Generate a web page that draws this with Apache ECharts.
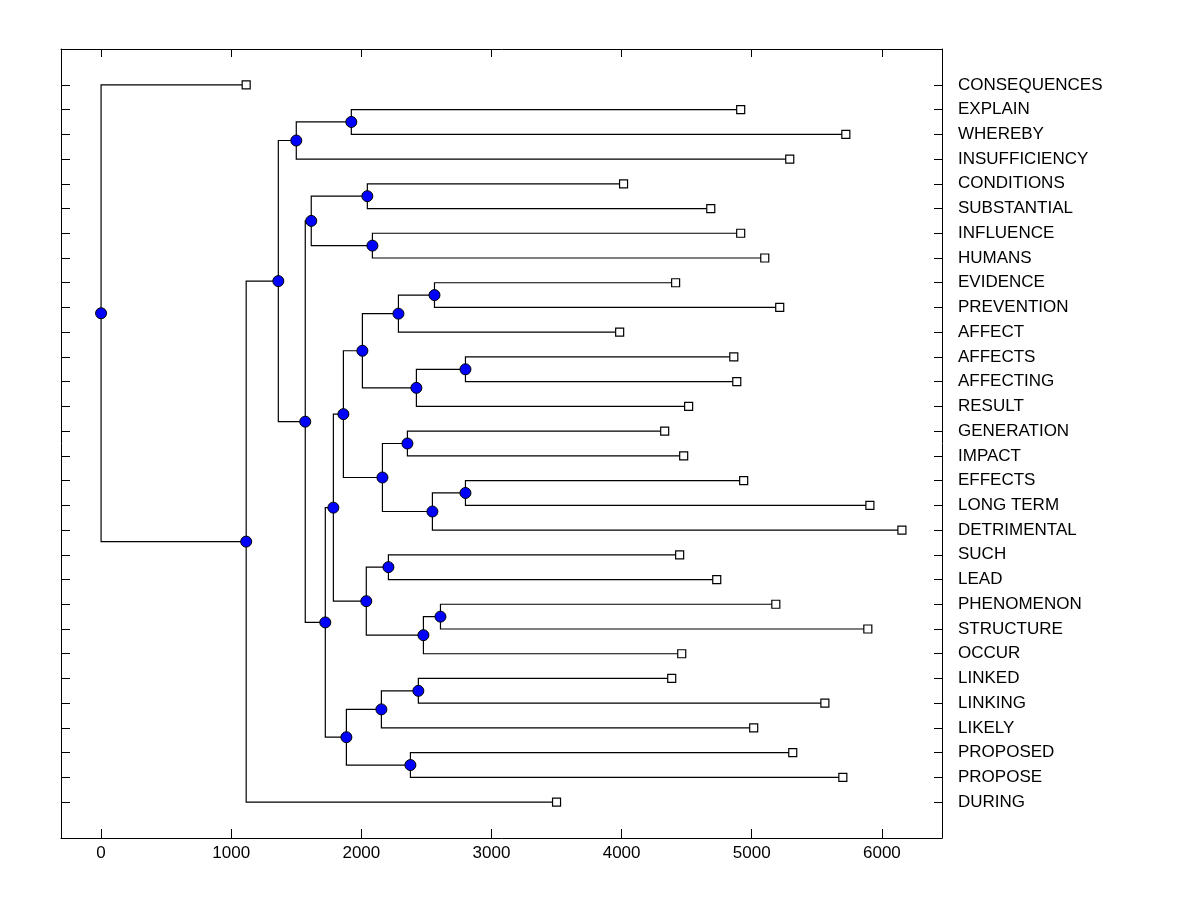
<!DOCTYPE html>
<html>
<head>
<meta charset="utf-8">
<script src="https://cdn.jsdelivr.net/npm/echarts@6/dist/echarts.min.js"></script>
<style>html,body{margin:0;padding:0;background:#fff;}#c{width:1200px;height:900px;}</style>
</head>
<body>
<div id="c"></div>
<script>
// Leaves (top to bottom) and their end positions
const leafNames = ['CONSEQUENCES','EXPLAIN','WHEREBY','INSUFFICIENCY','CONDITIONS','SUBSTANTIAL','INFLUENCE','HUMANS','EVIDENCE','PREVENTION','AFFECT','AFFECTS','AFFECTING','RESULT','GENERATION','IMPACT','EFFECTS','LONG TERM','DETRIMENTAL','SUCH','LEAD','PHENOMENON','STRUCTURE','OCCUR','LINKED','LINKING','LIKELY','PROPOSED','PROPOSE','DURING'];
const leafValues = [1115, 4915, 5723, 5292, 4015, 4685, 4915, 5100, 4415, 5215, 3985, 4862, 4885, 4515, 4331, 4477, 4938, 5908, 6154, 4446, 4731, 5185, 5892, 4462, 4385, 5562, 5015, 5315, 5700, 3500];
// Merges: ids 0..29 are leaves, merge k gets id 30+k
const mergeLeft   = [1, 30, 4, 6, 32, 8, 35, 11, 37, 36, 14, 16, 41, 40, 39, 19, 21, 46, 45, 44, 24, 50, 27, 51, 49, 34, 31, 56, 0];
const mergeRight  = [2, 3, 5, 7, 33, 9, 10, 12, 13, 38, 15, 17, 18, 42, 43, 20, 22, 23, 47, 48, 25, 26, 28, 52, 53, 54, 55, 29, 57];
const mergeHeight = [1923, 1500, 2046, 2085, 1615, 2562, 2285, 2800, 2423, 2008, 2354, 2800, 2546, 2162, 1862, 2208, 2608, 2477, 2038, 1785, 2438, 2154, 2377, 1885, 1723, 1569, 1362, 1115, 0];
const xTicks = [0, 1000, 2000, 3000, 4000, 5000, 6000];

const X_MIN = -308, X_MAX = 6462, Y_MIN = -1.45, Y_MAX = 30.45;

const px = [], py = [];
leafValues.forEach((v, i) => { px.push(v); py.push(i); });
const edges = [], nodes = [];
mergeHeight.forEach((h, k) => {
  const a = mergeLeft[k], b = mergeRight[k];
  px.push(h); py.push((py[a] + py[b]) / 2);
  edges.push({ coords: [[px[a], py[a]], [h, py[a]], [h, py[b]], [px[b], py[b]]] });
  nodes.push([h, (py[a] + py[b]) / 2]);
});
const leaves = leafValues.map((v, i) => [v, i]);
const rowTicks = leafNames.map((n, i) => i);

const font = { fontFamily: '"Liberation Sans", Arial, sans-serif', fontSize: 17, color: '#000' };
const axLine = { show: true, onZero: false, lineStyle: { color: '#000', width: 1 } };

const chart = echarts.init(document.getElementById('c'), null, { renderer: 'canvas' });
chart.setOption({
  animation: false,
  backgroundColor: '#fff',
  grid: { left: 61, top: 49, right: 258, bottom: 62, containLabel: false },
  xAxis: [
    { type: 'value', position: 'bottom', min: X_MIN, max: X_MAX, axisLine: axLine,
      axisTick: { show: true, inside: true, length: 9, customValues: xTicks, lineStyle: { color: '#000', width: 1 } },
      axisLabel: Object.assign({ show: true, margin: 7, customValues: xTicks, formatter: v => String(v) }, font),
      splitLine: { show: false } },
    { type: 'value', position: 'top', min: X_MIN, max: X_MAX, axisLine: axLine,
      axisTick: { show: true, inside: true, length: 8, customValues: xTicks, lineStyle: { color: '#000', width: 1 } },
      axisLabel: { show: false }, splitLine: { show: false } }
  ],
  yAxis: [
    { type: 'value', position: 'left', inverse: true, min: Y_MIN, max: Y_MAX, axisLine: axLine,
      axisTick: { show: true, inside: true, length: 9, customValues: rowTicks, lineStyle: { color: '#000', width: 1 } },
      axisLabel: { show: false }, splitLine: { show: false } },
    { type: 'value', position: 'right', inverse: true, min: Y_MIN, max: Y_MAX, axisLine: axLine,
      axisTick: { show: true, inside: true, length: 8, customValues: rowTicks, lineStyle: { color: '#000', width: 1 } },
      axisLabel: Object.assign({ show: true, margin: 16, align: 'left', customValues: rowTicks,
        formatter: v => leafNames[Math.round(v)] || '' }, font),
      splitLine: { show: false } }
  ],
  series: [
    { type: 'lines', coordinateSystem: 'cartesian2d', polyline: true, xAxisIndex: 0, yAxisIndex: 0,
      silent: true, data: edges, lineStyle: { color: '#000', width: 1.2, opacity: 1 }, z: 2 },
    { type: 'scatter', xAxisIndex: 0, yAxisIndex: 0, data: leaves, symbol: 'rect', symbolSize: 8,
      itemStyle: { color: '#fff', borderColor: '#000', borderWidth: 1.2, opacity: 1 }, silent: true, z: 3 },
    { type: 'scatter', xAxisIndex: 0, yAxisIndex: 0, data: nodes, symbol: 'circle', symbolSize: 11,
      itemStyle: { color: '#0000ff', borderColor: '#000', borderWidth: 1, opacity: 1 }, silent: true, z: 4 }
  ]
});
</script>
</body>
</html>
